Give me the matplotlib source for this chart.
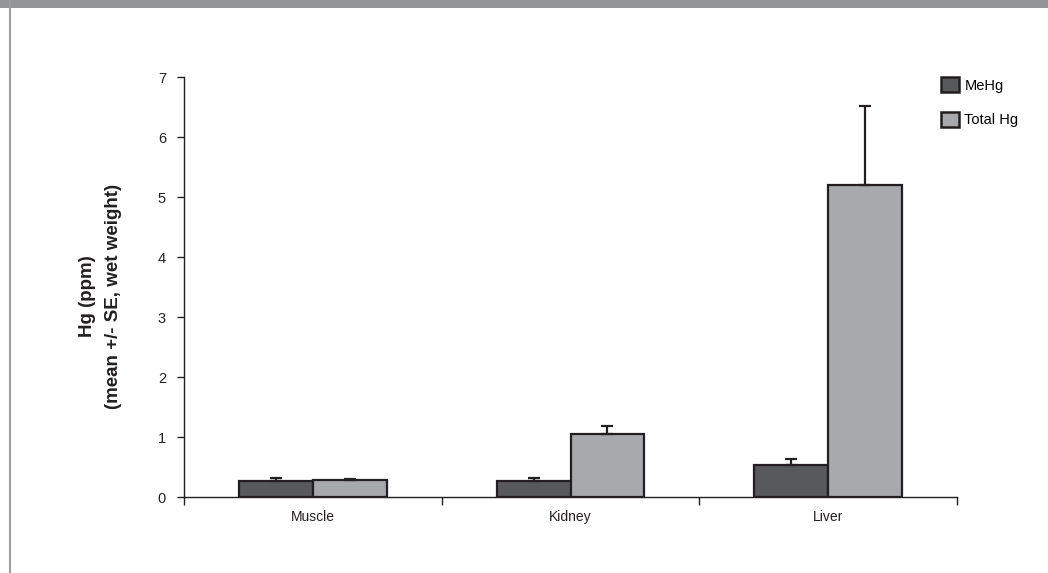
import numpy as np
import matplotlib.pyplot as plt
from matplotlib.patches import Patch, Rectangle
from matplotlib.lines import Line2D

plt.rcParams['font.family'] = ['Liberation Sans', 'DejaVu Sans']

# data
tissues = ["Muscle", "Kidney", "Liver"]
mehg = [0.27, 0.27, 0.54]
mehg_se = [0.05, 0.05, 0.10]
total_hg = [0.28, 1.05, 5.20]
total_se = [0.03, 0.14, 1.32]
series_names = ["MeHg", "Total Hg"]
yticks = [0, 1, 2, 3, 4, 5, 6, 7]

dark = "#58595b"
light = "#a7a9ac"
edge = "#231f20"

fig = plt.figure(figsize=(10.48, 5.73), dpi=100)
ax = fig.add_axes([184 / 1048, 1 - 497.3 / 573, (957 - 184) / 1048, (497.3 - 77.3) / 573])

x = np.arange(len(tissues))
w = 0.287
err_kw = dict(ecolor=edge, elinewidth=1.6, capsize=4.5, capthick=1.6)
ax.bar(x - w / 2, mehg, w, color=dark, edgecolor=edge, linewidth=1.6,
       yerr=[np.zeros(3), mehg_se], error_kw=err_kw, zorder=2)
ax.bar(x + w / 2, total_hg, w, color=light, edgecolor=edge, linewidth=1.6,
       yerr=[np.zeros(3), total_se], error_kw=err_kw, zorder=2)

ax.set_xlim(-0.5, 2.5)
ax.set_ylim(0, 7)
ax.set_yticks(yticks)
ax.set_yticklabels([str(t) for t in yticks], fontsize=10.5, color="#231f20")
ax.tick_params(axis='y', direction='out', length=5, width=1, color="#231f20", pad=8)

# category boundaries as major ticks, labels on minor ticks
ax.set_xticks([-0.5, 0.5, 1.5, 2.5])
ax.set_xticklabels([])
ax.tick_params(axis='x', which='major', direction='out', length=6, width=1, color="#231f20")
ax.set_xticks(x, minor=True)
ax.set_xticklabels(tissues, minor=True, fontsize=10, color="#231f20")
ax.tick_params(axis='x', which='minor', length=0, pad=9)

for s in ['top', 'right']:
    ax.spines[s].set_visible(False)
for s in ['left', 'bottom']:
    ax.spines[s].set_linewidth(1)
    ax.spines[s].set_color("#231f20")

fig.text(88 / 1048, 1 - 296 / 573, "Hg (ppm)", rotation=90, ha='center', va='center',
         fontsize=13.5, fontweight='bold', color="#231f20")
fig.text(114 / 1048, 1 - 296 / 573, "(mean +/- SE, wet weight)", rotation=90, ha='center',
         va='center', fontsize=13.5, fontweight='bold', color="#231f20")

handles = [Patch(facecolor=dark, edgecolor=edge, linewidth=1.8),
           Patch(facecolor=light, edgecolor=edge, linewidth=1.8)]
fig.legend(handles, series_names, loc='upper left', bbox_to_anchor=(941 / 1048, 1 - 77 / 573),
           frameon=False, fontsize=10.5, handlelength=1.25, handleheight=1.25,
           handletextpad=0.35, labelspacing=1.3, borderaxespad=0, borderpad=0)

# page decoration: gray band on top and gray rule on the left
fig.patches.append(Rectangle((0, 1 - 8 / 573), 1, 8 / 573, transform=fig.transFigure,
                             facecolor="#939598", edgecolor='none'))
fig.lines.append(Line2D([9.5 / 1048, 9.5 / 1048], [0, 1], transform=fig.transFigure,
                        color="#9d9ea1", linewidth=1.5))

fig.savefig("out.png", dpi=100)
